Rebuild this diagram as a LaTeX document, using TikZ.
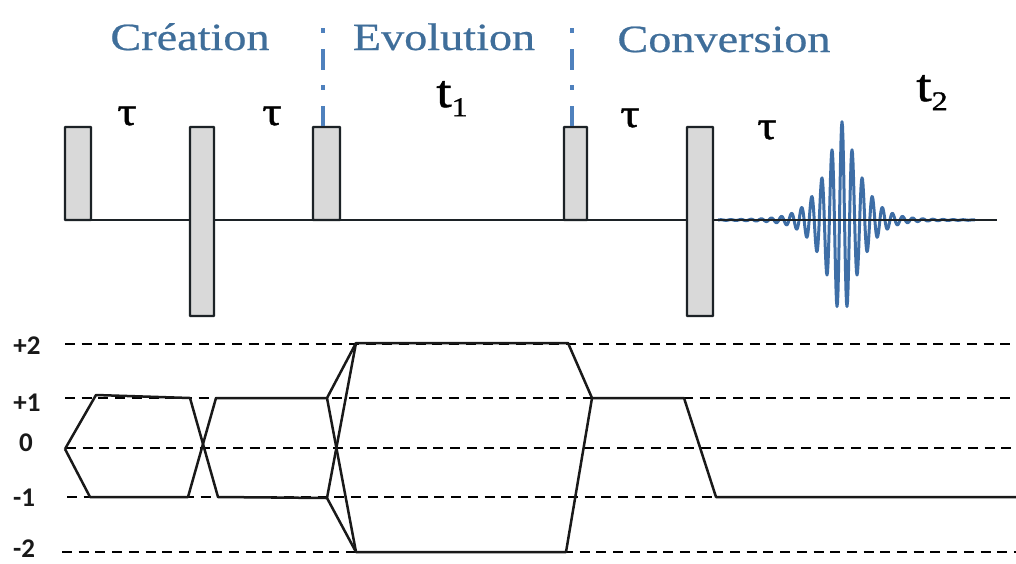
\documentclass[tikz,border=0pt]{standalone}
\usepackage{fontspec}
\setmainfont{Liberation Serif}
\newfontfamily\widefont[FakeStretch=1.2,FakeBold=0.6]{Liberation Serif}
\newfontfamily\delayfont[FakeStretch=1.2,FakeBold=1.2]{Liberation Serif}
\newfontfamily\lblfont{Carlito}
\definecolor{headblue}{HTML}{3F6E9A}
\definecolor{sepblue}{HTML}{4F81BD}
\definecolor{sigblue}{HTML}{3E6EA6}
\definecolor{pulsegrey}{HTML}{D9D9D9}
\definecolor{inkdark}{HTML}{1C2226}
\tikzset{
  pulse/.style={draw=inkdark,fill=pulsegrey,line width=2.2pt,inner sep=0pt,rounded corners=0.5pt},
  heading/.style={text=headblue,font=\widefont\fontsize{38.5}{38.5}\selectfont,inner sep=0pt,anchor=base},
  delay/.style={text=black,font=\delayfont\fontsize{40}{40}\selectfont,inner sep=0pt,anchor=base},
  timelabel/.style={text=black,font=\delayfont\fontsize{46}{46}\selectfont,inner sep=0pt,anchor=base},
  level/.style={font=\lblfont\bfseries\fontsize{27}{27}\selectfont,text=black!90,inner sep=0pt},
  sepline/.style={draw=sepblue,line width=4.5pt,dash pattern=on 5pt off 16pt on 21pt off 15pt},
  levelline/.style={draw=black,line width=2.4pt,dash pattern=on 10pt off 6.7pt},
  pathway/.style={draw=black!90,line width=2.5pt,line join=round},
  axisline/.style={draw=inkdark,line width=2.3pt}
}
\begin{document}
\begin{tikzpicture}[x=1pt,y=-1pt]
\useasboundingbox[fill=white] (0,0) rectangle (1016,563);
% headings
\node[heading] (hc) at (190,50) {Création};
\node[heading] (he) at (444,50) {Evolution};
\node[heading] (hv) at (724,52) {Conversion};
% delays
\node[delay] (d1) at (127,125) {τ};
\node[delay] (d2) at (272,125) {τ};
\node[delay] (d3) at (630,127) {τ};
\node[delay] (d4) at (767,139) {τ};
\node[timelabel] (t1) at (452,107) {t\raisebox{-0.2em}{\fontsize{27}{27}\selectfont 1}};
\node[timelabel] (t2) at (932,101) {t\raisebox{-0.2em}{\fontsize{27}{27}\selectfont 2}};
% signal
\draw[sigblue,line width=3pt,line join=round] plot[samples=515,domain=718:975,variable=\x]
  ({\x},{220-(94*exp(-1*exp(1.3*ln(max(abs(\x-842),1)/22)))+6*exp(-abs(\x-842)/40))*cos(35.64*(\x-842))});
% axis and pulses
\coordinate (as) at (65,220);
\coordinate (ae) at (997,220);
\draw[axisline] (as) -- (ae);
\node[pulse,minimum width=26pt,minimum height=93pt] (p1) at (78,173.5) {};
\node[pulse,minimum width=24pt,minimum height=189pt] (p2) at (202,221.5) {};
\node[pulse,minimum width=27pt,minimum height=93pt] (p3) at (326.5,173.5) {};
\node[pulse,minimum width=23pt,minimum height=93pt] (p4) at (575.5,173.5) {};
\node[pulse,minimum width=26pt,minimum height=189pt] (p5) at (700,221.5) {};
% separators
\coordinate (s1) at (323,28);
\coordinate (s2) at (572,28);
\draw[sepline] (s1) -- (s1 |- p3.north);
\draw[sepline] (s2) -- (s2 |- p4.north);
% level labels and lines
\foreach \n/\t/\y/\ly/\xs/\xl in {a/+2/344/346/65/27,b/+1/398/403/65/27,c/0/448/443/66/26,d/-1/497/498/67/24,e/-2/552/549/62/24}{
  \node[level] (l\n) at (\xl,\ly) {\t};
  \coordinate (ls\n) at (\xs,\y);
  \coordinate (le\n) at (1016,\y);
  \draw[levelline] (ls\n) -- (le\n);
}
% coherence pathways
\coordinate (o) at (65,449);
\coordinate (a1) at (96,395);
\coordinate (a2) at (190,398);
\coordinate (a3) at (218,497);
\coordinate (a4) at (327,498);
\coordinate (b1) at (90,497);
\coordinate (b2) at (188,497);
\coordinate (b3) at (216,398);
\coordinate (b4) at (327,398);
\coordinate (c1) at (356,343);
\coordinate (c2) at (568,343);
\coordinate (c3) at (592,398);
\coordinate (c4) at (684,398);
\coordinate (c5) at (716,497);
\coordinate (c6) at (1016,497);
\coordinate (e1) at (356,552);
\coordinate (e2) at (566,552);
\draw[pathway] (o) -- (a1) -- (a2) -- (a3) -- (a4) -- (c1) -- (c2) -- (c3) -- (c4) -- (c5) -- (c6);
\draw[pathway] (o) -- (b1) -- (b2) -- (b3) -- (b4) -- (e1) -- (e2) -- (c3);
\draw[pathway] (b4) -- (c1);
\draw[pathway] (a4) -- (e1);
\end{tikzpicture}
\end{document}
